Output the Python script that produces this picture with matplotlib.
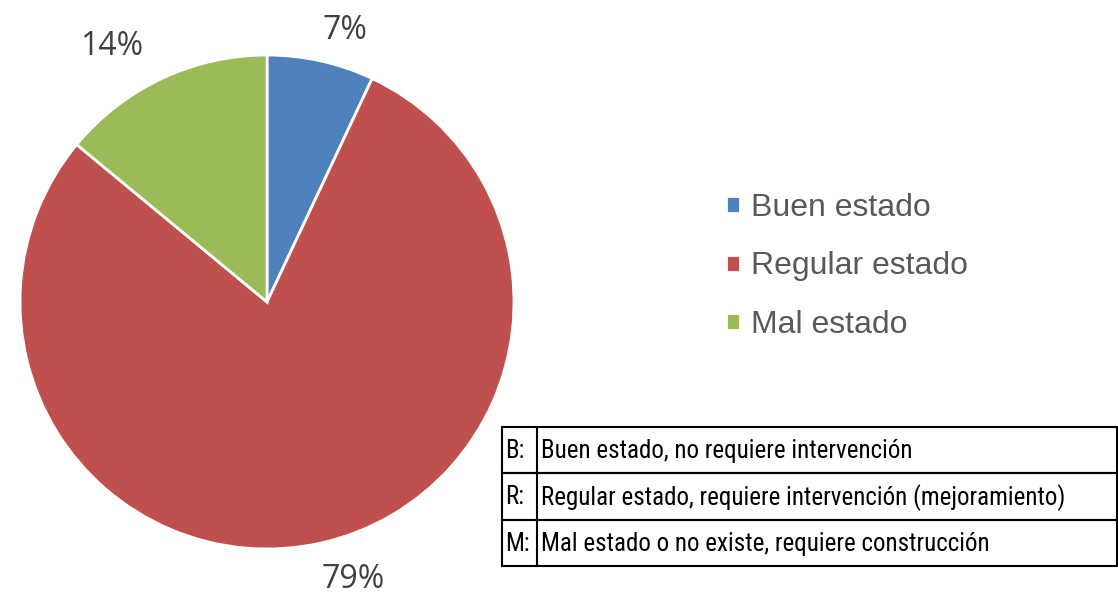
import matplotlib
matplotlib.use("Agg")
import matplotlib.pyplot as plt
from matplotlib.patches import Rectangle
from matplotlib import font_manager as fm

categories = ["Buen estado", "Regular estado", "Mal estado"]
values = [7, 79, 14]
colors = ["#4F81BD", "#C0504D", "#9BBB59"]
codes = ["B:", "R:", "M:"]
descriptions = [
    "Buen estado, no requiere intervención",
    "Regular estado, requiere intervención (mejoramiento)",
    "Mal estado o no existe, requiere construcción",
]

W, H = 1118, 597
fig = plt.figure(figsize=(W / 100, H / 100), dpi=100)

def px_axes(x0, y0, x1, y1):
    return fig.add_axes([x0 / W, 1 - y1 / H, (x1 - x0) / W, (y1 - y0) / H])

# Pie
cx, cy, r = 267, 302, 247
ax = px_axes(cx - r, cy - r, cx + r, cy + r)
wedges, texts, autotexts = ax.pie(
    values, colors=colors, startangle=90, counterclock=False,
    radius=1.0, autopct="%1.0f%%", pctdistance=1.17,
    wedgeprops=dict(edgecolor="white", linewidth=2),
    textprops=dict(color="#404040", fontsize=23, family=["Open Sans", "DejaVu Sans"]),
)
# label placement (Excel best-fit style offsets, in axes data units)
label_pos = [(0.315, 1.10), (0.35, -1.125), (-0.63, 1.035)]
for t, p in zip(autotexts, label_pos):
    t.set_position(p)
ax.set_xlim(-1, 1)
ax.set_ylim(-1, 1)
ax.set_aspect("equal")
ax.axis("off")

# Legend
leg = fig.legend(
    wedges, categories, loc="upper left",
    bbox_to_anchor=(697 / W, 1 - 164 / H),
    frameon=False, handlelength=0.45, handleheight=0.45, handletextpad=0.35,
    labelspacing=0.9,
    prop=dict(family=["Liberation Sans", "DejaVu Sans"], size=23),
    labelcolor="#595959",
)

# Table
names = {f.name for f in fm.fontManager.ttflist}
narrow = None
for cand in ["Liberation Sans Narrow", "Roboto Condensed", "DejaVu Sans Condensed", "Open Sans Condensed"]:
    if cand in names:
        narrow = cand
        break
tfont = dict(family=[narrow or "DejaVu Sans", "DejaVu Sans"], fontsize=18)
if narrow is None:
    tfont["fontstretch"] = "condensed"

tx0, tx1, ty0, ty1 = 502, 1117, 427, 566
tax = px_axes(tx0, ty0, tx1, ty1)
n = len(codes)
tax.set_xlim(0, tx1 - tx0)
tax.set_ylim(n, 0)
tax.axis("off")
div = 537 - tx0
for i, (c, d) in enumerate(zip(codes, descriptions)):
    tax.add_patch(Rectangle((0, i), tx1 - tx0, 1, fill=False, edgecolor="black",
                            linewidth=1.5, clip_on=False))
    tax.text(3, i + 0.52, c, va="center", ha="left", **tfont)
    tax.text(div + 4, i + 0.52, d, va="center", ha="left", **tfont)
tax.plot([div, div], [0, n], color="black", linewidth=1.5, clip_on=False)

fig.savefig("out.png", dpi=100, facecolor="white")
